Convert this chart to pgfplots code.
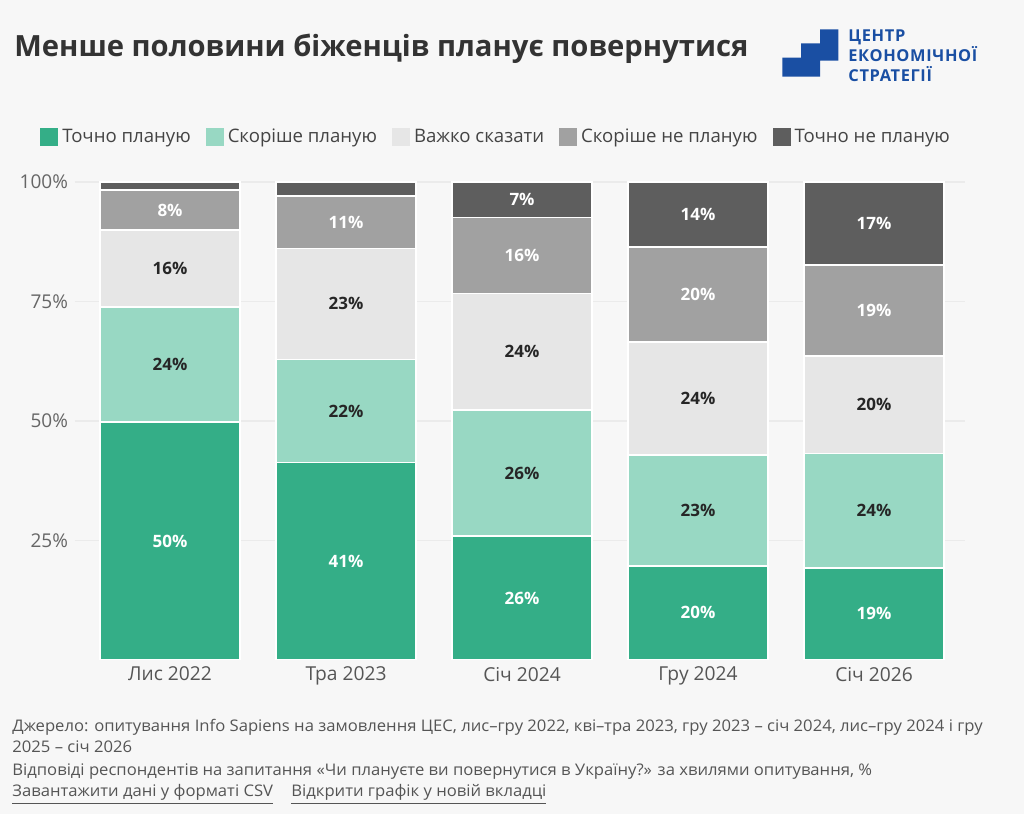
\documentclass[border=0pt]{standalone}
\usepackage{pgfplots}
\usepackage{pgfplotstable}
\pgfplotsset{compat=1.18}
\usepackage{fontspec}
\setmainfont{Open Sans}
\newfontfamily\footfont[FakeStretch=1.04]{Open Sans}
\definecolor{bg}{HTML}{F7F7F7}
\definecolor{gA}{HTML}{34AE87}
\definecolor{gB}{HTML}{98D8C3}
\definecolor{gC}{HTML}{E6E6E6}
\definecolor{gD}{HTML}{A1A1A1}
\definecolor{gE}{HTML}{5E5E5E}
\definecolor{gridc}{HTML}{EBEBEB}
\definecolor{titlec}{HTML}{333333}
\definecolor{tickc}{HTML}{666666}
\definecolor{xlabc}{HTML}{555555}
\definecolor{legc}{HTML}{444444}
\definecolor{footc}{HTML}{555555}
\definecolor{logoc}{HTML}{1A4FA3}

\pgfplotstableread{
x a b c d e
0 49.8 24.0 16.2 8.3 1.7
1 41.3 21.6 23.2 11.0 2.9
2 25.9 26.4 24.4 15.9 7.4
3 19.7 23.2 23.6 19.9 13.6
4 19.3 23.9 20.4 19.0 17.4
}\datatable

\pgfplotsset{
  base/.style={at={(37.5pt,77pt)}, anchor=south west, scale only axis, width=445pt, height=239pt,
    xmin=-0.54, xmax=4.517, ymin=0, ymax=100},
  sqleg/.style={legend image code/.code={\fill[##1,draw=none] (0pt,-4.5pt) rectangle (9pt,4.5pt);}},
  lab/.style={only marks, mark=*, mark size=0pt, mark options={draw=none,fill=none},
    point meta=explicit,
    nodes near coords={\pgfmathprintnumber[fixed,precision=0,assume math mode=true]{\pgfplotspointmeta}\%},
    every node near coord/.append style={anchor=center, inner sep=0pt, font=\fontsize{8.5}{10}\selectfont\bfseries, text=#1}},
}

\begin{document}
\begin{tikzpicture}
\path[use as bounding box] (0,0) rectangle (512pt,407pt);
\fill[bg] (0,0) rectangle (512pt,407pt);

\node[anchor=base west, font=\fontsize{14.6}{18}\selectfont\bfseries, text=titlec, inner sep=0pt] at (7pt,378.5pt) {Менше половини біженців планує повернутися};

% logo
\fill[logoc] (410pt,392.35pt) -- (419.15pt,392.35pt) -- (419.15pt,376.65pt) -- (410pt,376.65pt) -- (410pt,368.65pt) -- (391.15pt,368.65pt) -- (391.15pt,378.15pt) -- (400.5pt,378.15pt) -- (400.5pt,385.35pt) -- (410pt,385.35pt) -- cycle;
\begin{scope}[every node/.style={anchor=base west, inner sep=0pt, text=logoc, font=\fontsize{8.2}{9}\selectfont\bfseries\addfontfeature{LetterSpace=4}}]
\node at (424pt,386.2pt) {ЦЕНТР};
\node at (424pt,376.2pt) {ЕКОНОМІЧНОЇ};
\node at (424pt,366.2pt) {СТРАТЕГІЇ};
\end{scope}

\begin{axis}[
  base,
  ybar stacked, bar width=70pt,
  axis line style={draw=none}, major tick length=0pt,
  ytick={25,50,75,100}, ymajorgrids,
  grid style={color=gridc, line width=0.8pt},
  /pgf/number format/assume math mode=true,
  yticklabel={\pgfmathprintnumber{\tick}\%},
  yticklabel style={font=\fontsize{9.5}{10}\selectfont, text=tickc},
  xtick={0,1,2,3,4},
  xticklabels={Лис 2022, Тра 2023, Січ 2024, Гру 2024, Січ 2026},
  xticklabel style={font=\fontsize{9.6}{11}\selectfont, text=xlabc},
  legend style={at={(axis description cs:-0.0393,1.094)}, anchor=west, draw=none, fill=none, inner sep=0pt,
    font=\fontsize{9.3}{10}\selectfont, text=legc,
    /tikz/every even column/.append style={column sep=5.5pt}},
  legend columns=5,
]
\addplot[fill=gA, draw=white, line width=0.8pt, sqleg] table[x=x,y=a] {\datatable};
\addplot[fill=gB, draw=white, line width=0.8pt, sqleg] table[x=x,y=b] {\datatable};
\addplot[fill=gC, draw=white, line width=0.8pt, sqleg] table[x=x,y=c] {\datatable};
\addplot[fill=gD, draw=white, line width=0.8pt, sqleg] table[x=x,y=d] {\datatable};
\addplot[fill=gE, draw=white, line width=0.8pt, sqleg] table[x=x,y=e] {\datatable};
\legend{Точно планую, Скоріше планую, Важко сказати, Скоріше не планую, Точно не планую}
\end{axis}

\begin{axis}[base, hide axis, clip=false, /pgf/number format/assume math mode=true]
\addplot[lab=white] table[x=x, y expr={0.5*\thisrow{a}}, meta=a] {\datatable};
\addplot[lab=black!85] table[x=x, y expr={\thisrow{a}+0.5*\thisrow{b}}, meta=b] {\datatable};
\addplot[lab=black!85] table[x=x, y expr={\thisrow{a}+\thisrow{b}+0.5*\thisrow{c}}, meta=c] {\datatable};
\addplot[lab=white] table[x=x, y expr={\thisrow{a}+\thisrow{b}+\thisrow{c}+0.5*\thisrow{d}}, meta=d] {\datatable};
\addplot[lab=white, skip coords between index={0}{2}] table[x=x, y expr={\thisrow{a}+\thisrow{b}+\thisrow{c}+\thisrow{d}+0.5*\thisrow{e}}, meta=e] {\datatable};
\end{axis}

\begin{scope}[every node/.style={anchor=base west, inner sep=0pt, text=footc, font=\footfont\fontsize{8}{9}\selectfont}]
\node at (6pt,41pt) {Джерело: опитування Info Sapiens на замовлення ЦЕС, лис–гру 2022, кві–тра 2023, гру 2023 – січ 2024, лис–гру 2024 і гру};
\node at (6pt,30.5pt) {2025 – січ 2026};
\node at (6pt,19pt) {Відповіді респондентів на запитання «Чи плануєте ви повернутися в Україну?» за хвилями опитування, \%};
\node at (6pt,8.5pt) {\underline{Завантажити дані у форматі CSV}};
\node at (145.5pt,8.5pt) {\underline{Відкрити графік у новій вкладці}};
\end{scope}
\end{tikzpicture}
\end{document}
